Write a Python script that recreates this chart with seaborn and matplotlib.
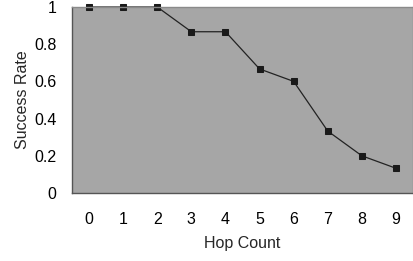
import matplotlib
matplotlib.use("Agg")
import matplotlib.pyplot as plt
import seaborn as sns
import pandas as pd
import numpy as np
from matplotlib.ticker import FixedLocator

hop_count = [0, 1, 2, 3, 4, 5, 6, 7, 8, 9]
success_rate = [1.0, 1.0, 1.0, 0.867, 0.867, 0.667, 0.6, 0.333, 0.2, 0.133]
y_ticks = [0, 0.2, 0.4, 0.6, 0.8, 1]
y_tick_labels = ["0", "0.2", "0.4", "0.6", "0.8", "1"]

df = pd.DataFrame({"Hop Count": hop_count, "Success Rate": success_rate})

sns.set_theme(style="white")
plt.rcParams["font.family"] = ["Liberation Sans", "DejaVu Sans"]

fig = plt.figure(figsize=(4.14, 2.61), dpi=100)
ax = fig.add_axes([72/414, 1 - 193/261, (413-72)/414, (193-7)/261])
ax.set_facecolor("#A6A6A6")

sns.lineplot(data=df, x="Hop Count", y="Success Rate", ax=ax, color="#222222",
             linewidth=0.9, marker="s", markersize=4.8, markeredgecolor="#1a1a1a",
             markerfacecolor="#1a1a1a", clip_on=False)

ax.set_xlim(-0.5, 9.5)
ax.set_ylim(0, 1)
ax.set_xticks(hop_count)
ax.set_xticklabels([str(h) for h in hop_count])
ax.xaxis.set_minor_locator(FixedLocator(np.arange(0.5, 9.5, 1)))
ax.set_yticks(y_ticks)
ax.set_yticklabels(y_tick_labels)

fs = 11.5
ax.tick_params(axis="x", which="major", length=0, pad=14, labelsize=fs, colors="black")
ax.tick_params(axis="x", which="minor", direction="in", length=4, width=0.8, color="#444444")
ax.tick_params(axis="y", which="major", direction="in", length=4, width=0.8, color="#444444",
               pad=11, labelsize=fs, labelcolor="black")

for side in ["left", "bottom"]:
    ax.spines[side].set_color("#555555")
    ax.spines[side].set_linewidth(1.0)
for side in ["top", "right"]:
    ax.spines[side].set_color("#8a8a8a")
    ax.spines[side].set_linewidth(1.0)

ax.set_xlabel("Hop Count", fontsize=fs, labelpad=6)
ax.set_ylabel("Success Rate", fontsize=fs, labelpad=3)

fig.savefig("out.png", dpi=100)
